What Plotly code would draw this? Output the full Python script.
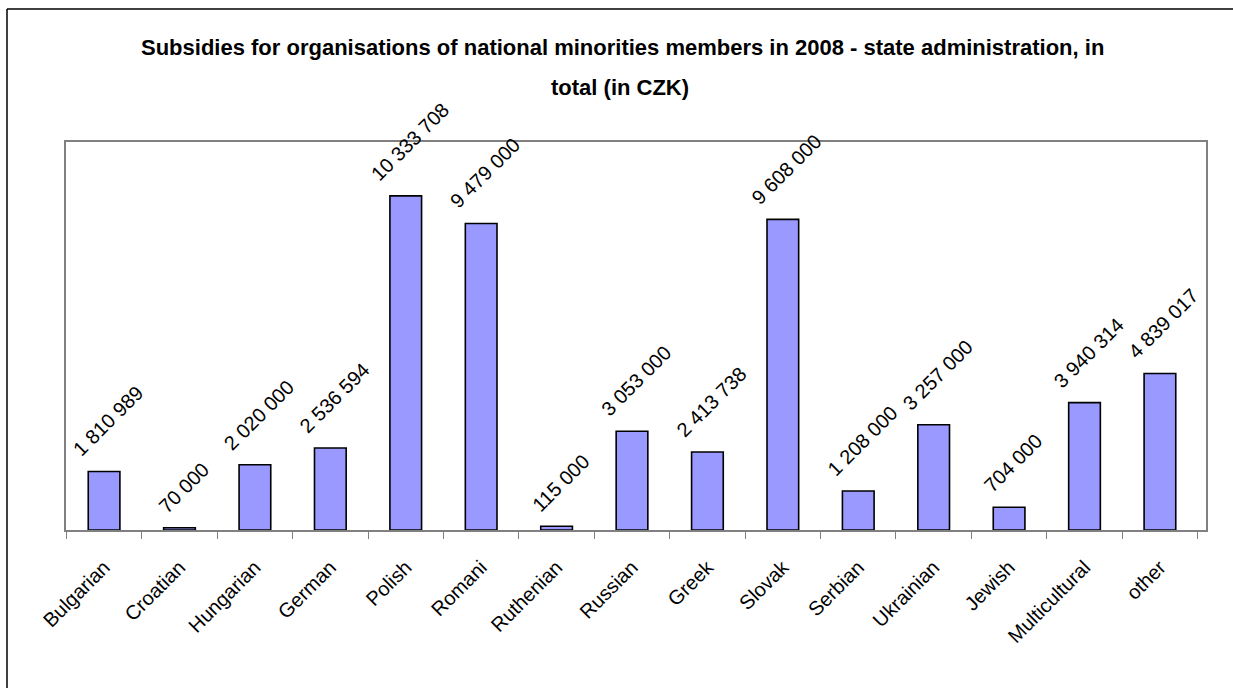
import plotly.graph_objects as go

categories = ["Bulgarian", "Croatian", "Hungarian", "German", "Polish", "Romani",
              "Ruthenian", "Russian", "Greek", "Slovak", "Serbian", "Ukrainian",
              "Jewish", "Multicultural", "other"]
values = [1810989, 70000, 2020000, 2536594, 10333708, 9479000, 115000, 3053000,
          2413738, 9608000, 1208000, 3257000, 704000, 3940314, 4839017]
value_labels = ["1 810 989", "70 000", "2 020 000", "2 536 594", "10 333 708",
                "9 479 000", "115 000", "3 053 000", "2 413 738", "9 608 000",
                "1 208 000", "3 257 000", "704 000", "3 940 314", "4 839 017"]
title_line1 = "Subsidies for organisations of national minorities members in 2008 - state administration, in"
title_line2 = "total (in CZK)"

W, H = 1233, 688
L, R, T, B = 66, 27, 142, 158
pw, ph = W - L - R, H - T - B

FONT = "Liberation Sans, Arial, sans-serif"

fig = go.Figure()
fig.add_trace(go.Bar(
    x=categories, y=values, width=0.42,
    marker=dict(color="#9999FF", line=dict(color="black", width=1.6)),
    hoverinfo="x+y",
))

annotations = []
for c, v, lab in zip(categories, values, value_labels):
    annotations.append(dict(
        x=c, y=v, xref="x", yref="y", text=lab, showarrow=False,
        textangle=-45, xanchor="center", yanchor="bottom", yshift=8, xshift=4,
        font=dict(family=FONT, size=20, color="black"),
    ))

# title lines
annotations.append(dict(
    x=(622 - L) / pw, y=(H - B - 47) / ph, xref="paper", yref="paper",
    text="<b>" + title_line1 + "</b>", showarrow=False,
    xanchor="center", yanchor="middle",
    font=dict(family=FONT, size=22, color="black"),
))
annotations.append(dict(
    x=(620 - L) / pw, y=(H - B - 87) / ph, xref="paper", yref="paper",
    text="<b>" + title_line2 + "</b>", showarrow=False,
    xanchor="center", yanchor="middle",
    font=dict(family=FONT, size=22, color="black"),
))

x_left = (7 - L) / pw
y_top = (H - B - 9) / ph
shapes = [
    dict(type="line", xref="paper", yref="paper",
         x0=x_left, x1=x_left, y0=(H - B - 700) / ph, y1=y_top,
         line=dict(color="black", width=1.5), layer="below"),
    dict(type="line", xref="paper", yref="paper",
         x0=x_left, x1=(1240 - L) / pw, y0=y_top, y1=y_top,
         line=dict(color="black", width=1.5), layer="below"),
]

fig.update_layout(
    width=W, height=H,
    margin=dict(l=L, r=R, t=T, b=B, autoexpand=False),
    paper_bgcolor="white", plot_bgcolor="white",
    showlegend=False,
    annotations=annotations,
    shapes=shapes,
    font=dict(family=FONT, size=20, color="black"),
    xaxis=dict(
        type="category", showgrid=False, zeroline=False,
        showline=True, linecolor="#808080", linewidth=1.5, mirror=True,
        ticks="outside", tickson="boundaries", ticklen=7, tickcolor="#808080",
        tickwidth=1.2, tickangle=-45, ticklabelstandoff=16,
        tickfont=dict(family=FONT, size=20, color="black"),
    ),
    yaxis=dict(
        range=[0, 12000000], showgrid=False, zeroline=False,
        showline=True, linecolor="#808080", linewidth=1.5, mirror=True,
        showticklabels=False, ticks="",
    ),
)

fig.write_html("out.html")
